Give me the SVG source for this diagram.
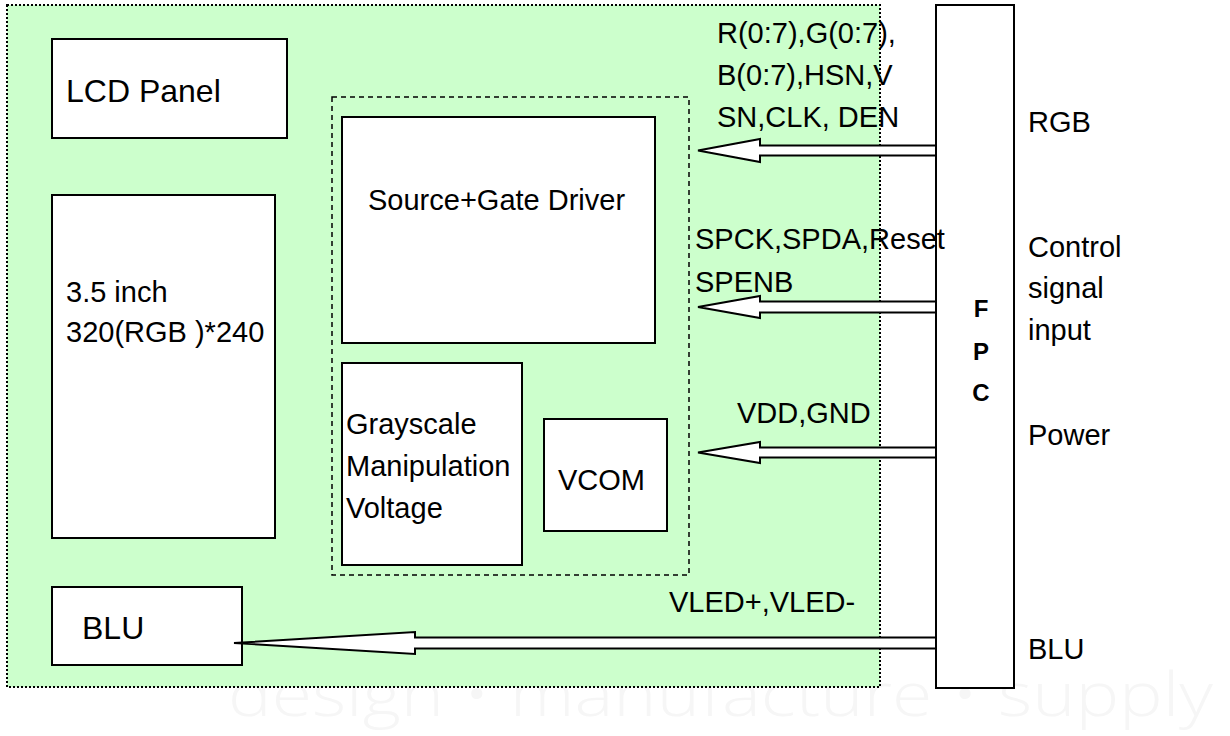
<svg xmlns="http://www.w3.org/2000/svg" width="1230" height="736" viewBox="0 0 1230 736">
<style>
.box{fill:#fff;stroke:#000;stroke-width:2}
.t{font-family:"Liberation Sans",Arial,sans-serif;font-size:29px;fill:#000}
.big{font-size:32px}
.b{font-weight:bold;font-size:24px}
.arrow{fill:#fff;stroke:#000;stroke-width:2;stroke-linejoin:miter}
.wm{font-family:"Open Sans","Liberation Sans",sans-serif;font-weight:300;font-size:60px;fill:#f6f6f6}
</style>
<rect x="0" y="0" width="1230" height="736" fill="#fff"/>
<text class="wm" x="228" y="716" textLength="985" lengthAdjust="spacingAndGlyphs">design • manufacture • supply</text>
<g id="module">
<rect x="7" y="5" width="873" height="682" fill="#ccffcc" stroke="#000" stroke-width="2" stroke-dasharray="2,2"/>
</g>
<g id="lcd-panel">
<rect class="box" x="52" y="39" width="235" height="99"/>
<text class="t big" x="66" y="102">LCD Panel</text>
</g>
<g id="panel-size">
<rect class="box" x="52" y="195" width="223" height="343"/>
<text class="t" x="66" y="302">3.5 inch</text>
<text class="t" x="66" y="342">320(RGB )*240</text>
</g>
<g id="driver-ic">
<rect x="332" y="97" width="357" height="478" fill="none" stroke="#000" stroke-width="1.5" stroke-dasharray="5,4"/>
</g>
<g id="source-gate">
<rect class="box" x="342" y="117" width="313" height="226"/>
<text class="t" x="368" y="210">Source+Gate Driver</text>
</g>
<g id="grayscale">
<rect class="box" x="342" y="363" width="180" height="202"/>
<text class="t" x="346" y="434">Grayscale</text>
<text class="t" x="346" y="476">Manipulation</text>
<text class="t" x="346" y="518">Voltage</text>
</g>
<g id="vcom">
<rect class="box" x="544" y="419" width="123" height="112"/>
<text class="t" x="558" y="490">VCOM</text>
</g>
<g id="blu">
<rect class="box" x="52" y="587" width="190" height="78"/>
<text class="t big" x="82" y="639">BLU</text>
</g>
<g id="fpc">
<rect class="box" x="936" y="5" width="78" height="683"/>
<text class="t b" x="981" y="317" text-anchor="middle">F</text>
<text class="t b" x="981" y="360" text-anchor="middle">P</text>
<text class="t b" x="981" y="401" text-anchor="middle">C</text>
</g>
<g id="connectors">
<polygon class="arrow" points="698,150.5 760,139 760,145.5 936,145.5 936,155.5 760,155.5 760,162"/>
<polygon class="arrow" points="698,307 760,296 760,301.5 936,301.5 936,312.5 760,312.5 760,318"/>
<polygon class="arrow" points="698,452.5 760,442 760,447.5 936,447.5 936,457.5 760,457.5 760,463"/>
<polygon class="arrow" points="234,643 415,632 415,637.5 936,637.5 936,648.5 415,648.5 415,654"/>
</g>
<g id="labels">
<text class="t" x="717" y="43">R(0:7),G(0:7),</text>
<text class="t" x="717" y="85">B(0:7),HSN,V</text>
<text class="t" x="717" y="127">SN,CLK, DEN</text>
<text class="t" x="695" y="249">SPCK,SPDA,Reset</text>
<text class="t" x="695" y="292">SPENB</text>
<text class="t" x="737" y="423">VDD,GND</text>
<text class="t" x="669" y="612">VLED+,VLED-</text>
<text class="t" x="1028" y="132">RGB</text>
<text class="t" x="1028" y="257">Control</text>
<text class="t" x="1028" y="298">signal</text>
<text class="t" x="1028" y="340">input</text>
<text class="t" x="1028" y="445">Power</text>
<text class="t" x="1028" y="659">BLU</text>
</g>
</svg>
